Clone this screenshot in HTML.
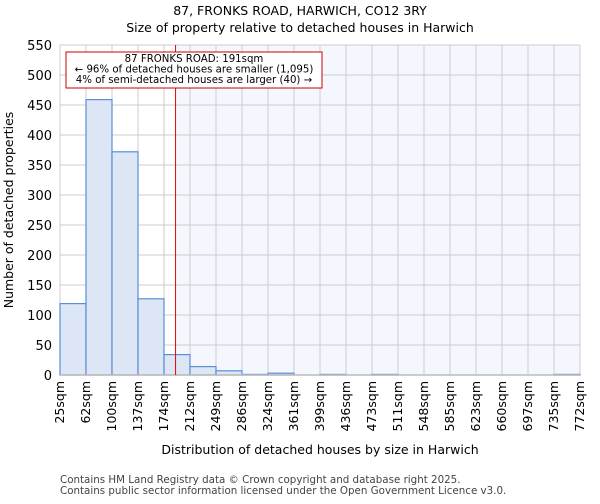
<!DOCTYPE html>
<html><head><meta charset="utf-8"><style>
body{margin:0;background:#fff;font-family:"DejaVu Sans","Liberation Sans",sans-serif;}
</style></head><body>
<svg id="chart" width="600" height="500" xmlns="http://www.w3.org/2000/svg" font-family="DejaVu Sans, Liberation Sans, sans-serif">
<text x="300" y="15" text-anchor="middle" font-size="12.5">87, FRONKS ROAD, HARWICH, CO12 3RY</text>
<text x="300" y="32" text-anchor="middle" font-size="12.5">Size of property relative to detached houses in Harwich</text>
<g id="plot"></g>
<text x="320" y="454" text-anchor="middle" font-size="12.5">Distribution of detached houses by size in Harwich</text>
<text transform="translate(13,210) rotate(-90)" text-anchor="middle" font-size="12.5">Number of detached properties</text>
<text x="60" y="483" font-size="10.3" fill="#444">Contains HM Land Registry data © Crown copyright and database right 2025.</text>
<text x="60" y="494" font-size="10.3" fill="#444">Contains public sector information licensed under the Open Government Licence v3.0.</text>
</svg>
<script>
const binLabels=["25sqm","62sqm","100sqm","137sqm","174sqm","212sqm","249sqm","286sqm","324sqm","361sqm","399sqm","436sqm","473sqm","511sqm","548sqm","585sqm","623sqm","660sqm","697sqm","735sqm","772sqm"];
const counts=[119,459,372,127,34,14,7,1,3,0,1,0,1,0,0,0,0,0,0,1];
const yTicks=[0,50,100,150,200,250,300,350,400,450,500,550];
const propertySize=191;
const xMin=25,xMax=772;
const L=60,R=580,T=45,B=375,yMax=550;
const NS="http://www.w3.org/2000/svg";
const g=document.getElementById('plot');
const bw=(R-L)/counts.length;
const y=v=>B-(v/yMax)*(B-T);
const xs=v=>L+(v-xMin)/(xMax-xMin)*(R-L);
function mk(tag,a,p){const e=document.createElementNS(NS,tag);for(const k in a)e.setAttribute(k,a[k]);(p||g).appendChild(e);return e;}
const px=xs(propertySize);
let bg=mk('rect',{x:px,y:T,width:R-px,height:B-T,fill:'#f5f7fe'});


for(const t of yTicks){
  let l=mk('line',{x1:L,x2:R,y1:y(t),y2:y(t),stroke:'#ccc','stroke-width':1});
  
  
  let tx=mk('text',{x:L-8,y:y(t)+5,'text-anchor':'end','font-size':13});
  tx.textContent=t;
  
  
}
binLabels.forEach((lab,i)=>{
  const x=L+i*bw;
  let l=mk('line',{x1:x,x2:x,y1:T,y2:B,stroke:'#ccc','stroke-width':1});
  
  
  let tx=mk('text',{transform:`translate(${x+4},${B+6}) rotate(-90)`,'text-anchor':'end','font-size':12.5});
  tx.textContent=lab;
  
  
});
counts.forEach((c,i)=>{
  let r=mk('rect',{x:L+i*bw,y:y(c),width:bw,height:B-y(c),fill:'#dce6f5',stroke:'#5a8ed6','stroke-width':1.2});
  
  
});
let ax=mk('line',{x1:L,x2:R,y1:B,y2:B,stroke:'#bbb','stroke-width':1.5});


let ml=mk('line',{x1:px,x2:px,y1:T,y2:B,stroke:'#e00','stroke-width':1});


let box=mk('rect',{x:66,y:52,width:256,height:36,fill:'#fff',stroke:'#c00','stroke-width':1});


["87 FRONKS ROAD: 191sqm","← 96% of detached houses are smaller (1,095)","4% of semi-detached houses are larger (40) →"].forEach((s,i)=>{
  let t=mk('text',{x:194,y:62+i*10.5,'text-anchor':'middle','font-size':10.2});
  t.textContent=s;
  
  
});
</script>
</body></html>
